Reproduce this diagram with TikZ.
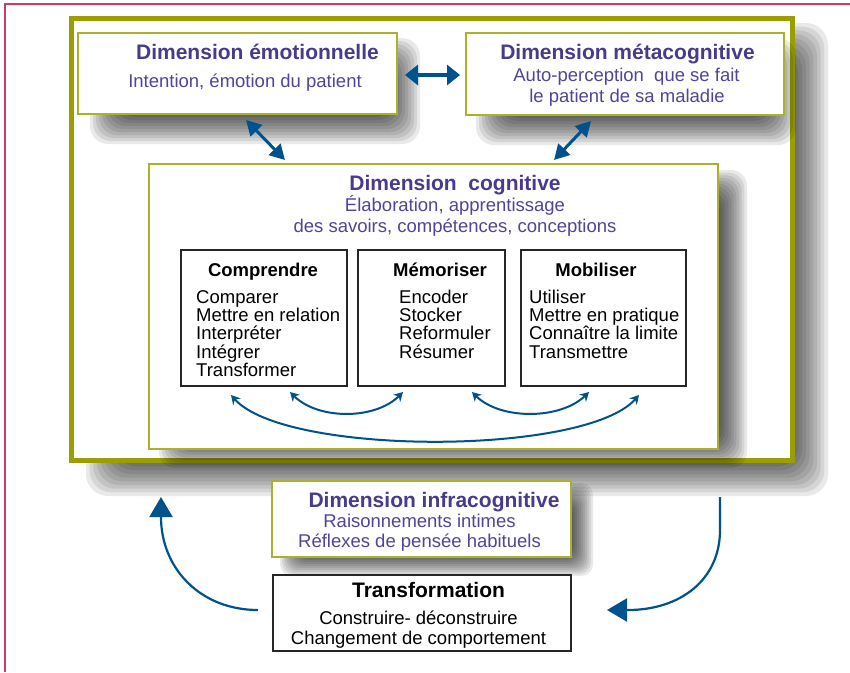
\documentclass[tikz,border=0pt]{standalone}
\usepackage{fontspec}
\setmainfont{Liberation Sans}
\usetikzlibrary{arrows.meta,calc}
\definecolor{olivef}{RGB}{155,158,0}
\definecolor{oliveb}{RGB}{172,176,45}
\definecolor{purp}{RGB}{72,58,140}
\definecolor{purps}{RGB}{82,68,152}
\definecolor{arrblue}{RGB}{0,82,140}
\definecolor{pinkb}{RGB}{205,60,100}
% soft shadow: x1 y1 x2 y2 radius
\newcommand\mysoftshadow[5]{%
  \foreach \k in {0,...,11}{%
    \fill[black, opacity=0.085, rounded corners=#5pt]
      ({#1-#5+#5*\k/6},{#2-#5+#5*\k/6}) rectangle ({#3+#5-#5*\k/6},{#4+#5-#5*\k/6});
  }}
\begin{document}
\begin{tikzpicture}[x=1pt,y=-1pt,
  obox/.style={draw=oliveb, line width=1.3pt, fill=white, inner sep=0pt, outer sep=0pt, anchor=north west},
  kbox/.style={draw=black!85, line width=1.3pt, fill=white, inner sep=0pt, outer sep=0pt, anchor=north west},
  ttl/.style={font=\fontsize{21}{21}\selectfont\bfseries, text=purp, inner sep=0pt, anchor=base},
  sub/.style={font=\fontsize{18.5}{18.5}\selectfont, text=purps, inner sep=0pt, anchor=base},
  ittl/.style={font=\fontsize{18.5}{18.5}\selectfont\bfseries, text=black, inner sep=0pt, anchor=base},
  ktl/.style={font=\fontsize{21}{21}\selectfont\bfseries, text=black, inner sep=0pt, anchor=base},
  ksub/.style={font=\fontsize{18.5}{18.5}\selectfont, text=black, inner sep=0pt, anchor=base},
  item/.style={font=\fontsize{18.5}{18.5}\selectfont, text=black, inner sep=0pt, anchor=base west},
  dbl/.style={arrblue, line width=4pt, {Triangle[width=20pt,length=13pt]}-{Triangle[width=20pt,length=13pt]}},
  diag/.style={arrblue, line width=3pt, {Triangle[width=16pt,length=15pt]}-{Triangle[width=16pt,length=15pt]}},
  curv/.style={arrblue, line width=2pt, {Stealth[width=10pt,length=9pt,inset=3pt]}-{Stealth[width=10pt,length=9pt,inset=3pt]}},
  bigarr/.style={arrblue, line width=2.2pt, -{Triangle[width=23pt,length=20pt]}}
]
\useasboundingbox (0,0) rectangle (850,672);
% page border
\draw[pinkb, line width=1.2pt] (850,4) -- (5,4) -- (5,672);

% big frame
\mysoftshadow{108}{45}{806}{474}{22}
\node[draw=olivef, line width=5pt, fill=white, inner sep=0pt, outer sep=0pt, anchor=north west,
  minimum width=721pt, minimum height=442pt] (frame) at (71.5,18.5) {};
\fill[olivef] (441,16) rectangle (453,21);

% top boxes
\mysoftshadow{108}{56}{402}{126}{18}
\mysoftshadow{494}{56}{778}{127}{18}
\node[obox, minimum width=319pt, minimum height=81pt] (emo) at (78,33) {};
\node[obox, minimum width=318pt, minimum height=82pt] (meta) at (466,33) {};
\node[ttl] (emoT) at (257.5,59) {Dimension émotionnelle};
\node[sub] (emoS) at (245,87) {Intention, émotion du patient};
\node[ttl] (metaT) at (627.5,59) {Dimension métacognitive};
\node[sub] (metaS1) at (626.5,81) {Auto-perception\ \ que se fait};
\node[sub] (metaS2) at (627,102) {le patient de sa maladie};

% cognitive box
\mysoftshadow{175}{186}{731}{452}{16}
\node[obox, minimum width=569pt, minimum height=285pt] (cog) at (149,164) {};
\node[ttl] (cogT) at (455,190) {Dimension\ \ cognitive};
\node[sub] (cogS1) at (455,211) {Élaboration, apprentissage};
\node[sub] (cogS2) at (455,232) {des savoirs, compétences, conceptions};

% inner boxes
\node[kbox, minimum width=166pt, minimum height=136pt] (comp) at (181,250) {};
\node[kbox, minimum width=147pt, minimum height=136pt] (mem) at (358,250) {};
\node[kbox, minimum width=165pt, minimum height=136pt] (mob) at (521,250) {};
\node[ittl] (compT) at (263,276) {Comprendre};
\node[ittl] (memT) at (440,276) {Mémoriser};
\node[ittl] (mobT) at (596,276) {Mobiliser};
\foreach \t [count=\i] in {Comparer, Mettre en relation, Interpréter, Intégrer, Transformer}
  \node[item] (ci\i) at (196, 285+18.3*\i) {\t};
\foreach \t [count=\i] in {Encoder, Stocker, Reformuler, Résumer}
  \node[item] (mi\i) at (399, 285+18.3*\i) {\t};
\foreach \t [count=\i] in {Utiliser, Mettre en pratique, Connaître la limite, Transmettre}
  \node[item] (bi\i) at (529, 285+18.3*\i) {\t};

% curved arrows in cognitive box
\draw[curv] ($(comp.south)+(26,6)$) .. controls (318,420) and (375,420) .. ($(mem.south)+(-28.5,6)$);
\draw[curv] ($(mem.south)+(40.5,6)$) .. controls (500,420) and (560,420) .. ($(mob.south)+(-14.5,6)$);
\draw[curv] ($(comp.south)+(-33,9)$) .. controls (285,456) and (585,456) .. ($(mob.south)+(35.5,9)$);

% arrows between top boxes
\draw[dbl] ([xshift=8pt,yshift=-1.5pt]emo.east) -- ([xshift=-6pt,yshift=-1pt]meta.west);
\draw[diag] ($(emo.south)+(8.5,6)$) -- ($(cog.north)+(-148.5,-4)$);
\draw[diag] ($(meta.south)+(-34,6)$) -- ($(cog.north)+(120.5,-4)$);

% lower boxes
\mysoftshadow{292}{495}{581}{564}{12}
\node[obox, minimum width=299pt, minimum height=76pt] (infra) at (272,481) {};
\node[ttl] (infraT) at (434,507) {Dimension infracognitive};
\node[sub] (infraS1) at (419.5,527) {Raisonnements intimes};
\node[sub] (infraS2) at (419.5,547) {Réflexes de pensée habituels};

\node[kbox, minimum width=298pt, minimum height=76pt] (trans) at (273,575) {};
\node[ktl] (transT) at (428.5,597) {Transformation};
\node[ksub] (transS1) at (418.5,624) {Construire- déconstruire};
\node[ksub] (transS2) at (418.5,644) {Changement de comportement};

% big loop arrows
\coordinate (lstart) at ($(trans.west)+(-15,-3)$);
\coordinate (ltip) at ($(frame.south west)+(89.5,36.5)$);
\draw[bigarr] (lstart) .. controls (200,610) and (161,568) .. (161,517) -- (ltip);
\coordinate (rstart) at ($(frame.south east)+(-72.5,36.5)$);
\coordinate (rtip) at ($(trans.east)+(36,-3)$);
\draw[bigarr] (rstart) -- (720,530) .. controls (720,580) and (680,610) .. (628,610) -- (rtip);
\end{tikzpicture}
\end{document}
